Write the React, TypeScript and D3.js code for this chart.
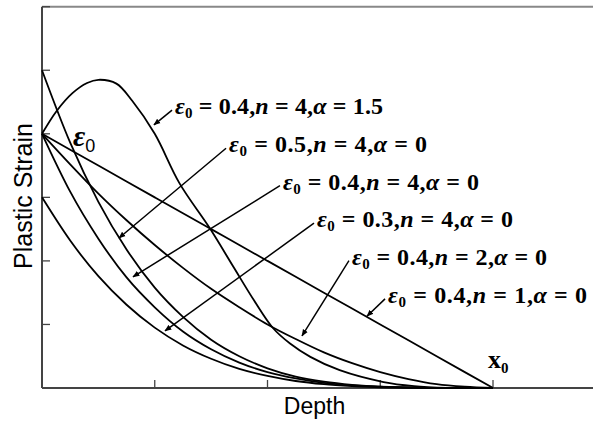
import React from "react";
import * as d3 from "d3";

// Depth values (units of the axis tick spacing) for the α = 0 curves
const depth = [0, 0.25, 0.5, 0.75, 1, 1.25, 1.5, 1.75, 2, 2.25, 2.5, 2.75, 3, 3.25, 3.5, 3.75, 4];
const strainE04n1 = [0.4, 0.375, 0.35, 0.325, 0.3, 0.275, 0.25, 0.225, 0.2, 0.175, 0.15, 0.125, 0.1, 0.075, 0.05, 0.025, 0];
const strainE04n2 = [0.4, 0.352, 0.306, 0.264, 0.225, 0.189, 0.156, 0.127, 0.1, 0.077, 0.056, 0.039, 0.025, 0.014, 0.006, 0.002, 0];
const strainE05n4 = [0.5, 0.386, 0.293, 0.218, 0.158, 0.112, 0.076, 0.05, 0.031, 0.018, 0.01, 0.005, 0.002, 0.001, 0, 0, 0];
const strainE04n4 = [0.4, 0.309, 0.235, 0.174, 0.127, 0.089, 0.061, 0.04, 0.025, 0.015, 0.008, 0.004, 0.002, 0.0005, 0, 0, 0];
const strainE03n4 = [0.3, 0.232, 0.176, 0.131, 0.095, 0.067, 0.046, 0.03, 0.019, 0.011, 0.006, 0.003, 0.001, 0.0004, 0, 0, 0];

// α = 1.5 curve
const depthAlpha = [0, 0.13, 0.27, 0.4, 0.5, 0.66, 0.8, 1.0, 1.22, 1.49, 1.7, 1.88, 2.05, 2.2, 2.38, 2.64, 3.03, 3.3, 3.6];
const strainAlpha = [0.4, 0.436, 0.464, 0.48, 0.485, 0.479, 0.452, 0.4, 0.322, 0.251, 0.19, 0.138, 0.094, 0.07, 0.049, 0.028, 0.0094, 0.003, 0];

const xTicks = [0, 1, 2, 3, 4];
const yTicks = [0, 0.1, 0.2, 0.3, 0.4, 0.5, 0.6];

// Annotation labels: [eps0, n, alpha], label anchor (depth, strain), arrow tip (depth, strain)
const labelEps = ["0.4", "0.5", "0.4", "0.3", "0.4", "0.4"];
const labelN = ["4", "4", "4", "4", "2", "1"];
const labelAlpha = ["1.5", "0", "0", "0", "0", "0"];
const labelDepth = [1.18, 1.659, 2.137, 2.439, 2.749, 3.069];
const labelStrain = [0.431, 0.371, 0.312, 0.253, 0.194, 0.134];
const tipDepth = [0.993, 0.683, 0.807, 1.091, 2.306, 2.882];
const tipStrain = [0.414, 0.236, 0.175, 0.09, 0.082, 0.113];
const labelWidth = [208, 198, 196, 196, 195, 199];

const eps0Label = { depth: 0.275, strain: 0.381 };
const x0Label = { depth: 3.956, strain: 0.031 };

const W = 593;
const H = 423;

export default function App() {
  const x = d3.scaleLinear().domain([0, 4]).range([42, 493]);
  const y = d3.scaleLinear().domain([0, 0.6]).range([388, 6.7]);
  const line = d3
    .line<[number, number]>()
    .x((d) => x(d[0]))
    .y((d) => y(d[1]))
    .curve(d3.curveMonotoneX);
  const smooth = d3
    .line<[number, number]>()
    .x((d) => x(d[0]))
    .y((d) => y(d[1]))
    .curve(d3.curveCatmullRom.alpha(0.5));

  const series = [strainE04n1, strainE04n2, strainE05n4, strainE04n4, strainE03n4].map((s) =>
    depth.map((d, i) => [d, s[i]] as [number, number])
  );
  const alphaSeries = depthAlpha.map((d, i) => [d, strainAlpha[i]] as [number, number]);

  const serif = "'Liberation Serif', 'Times New Roman', serif";
  const sans = "'Liberation Sans', Arial, sans-serif";
  const axisColor = "#444";

  return (
    <svg width={W} height={H} style={{ position: "absolute", left: 0, top: 0, background: "#fff" }}>
      <defs>
        <marker id="arr" viewBox="0 0 10 10" refX="9" refY="5" markerWidth="7" markerHeight="7" orient="auto" markerUnits="userSpaceOnUse">
          <path d="M0,1 L10,5 L0,9 Z" fill="#000" />
        </marker>
      </defs>
      {/* frame */}
      <line x1={x(0)} x2={W} y1={y(0.6)} y2={y(0.6)} stroke="#888" strokeWidth={2} />
      <line x1={x(0)} x2={W} y1={y(0)} y2={y(0)} stroke={axisColor} strokeWidth={2} />
      <line x1={x(0)} x2={x(0)} y1={y(0.6)} y2={y(0)} stroke={axisColor} strokeWidth={2} />
      {yTicks.map((t) => (
        <line key={"yt" + t} x1={x(0)} x2={x(0) + 8} y1={y(t)} y2={y(t)} stroke={axisColor} strokeWidth={1.3} />
      ))}
      {xTicks.map((t) => (
        <line key={"xt" + t} x1={x(t)} x2={x(t)} y1={y(0)} y2={y(0) - 8} stroke={axisColor} strokeWidth={1.3} />
      ))}
      {/* curves */}
      {series.map((s, i) => (
        <path key={"s" + i} d={line(s) || ""} fill="none" stroke="#000" strokeWidth={1.8} />
      ))}
      <path d={smooth(alphaSeries) || ""} fill="none" stroke="#000" strokeWidth={1.8} />
      {/* leaders */}
      {labelDepth.map((d, i) => (
        <line
          key={"ld" + i}
          x1={x(d) - 3}
          y1={y(labelStrain[i]) - 4}
          x2={x(tipDepth[i])}
          y2={y(tipStrain[i])}
          stroke="#000"
          strokeWidth={1.5}
          markerEnd="url(#arr)"
        />
      ))}
      {/* labels */}
      {labelDepth.map((d, i) => (
        <text
          key={"lb" + i}
          x={x(d)}
          y={y(labelStrain[i])}
          fontFamily={serif}
          fontWeight="bold"
          fontSize={24}
          textLength={labelWidth[i]}
          lengthAdjust="spacing"
        >
          <tspan fontStyle="italic">ε</tspan>
          <tspan fontSize={15} dy={4}>0</tspan>
          <tspan dy={-4}>{" = " + labelEps[i] + ","}</tspan>
          <tspan fontStyle="italic">n</tspan>
          <tspan>{" = " + labelN[i] + ","}</tspan>
          <tspan fontStyle="italic">α</tspan>
          <tspan>{" = " + labelAlpha[i]}</tspan>
        </text>
      ))}
      {/* ε0 at origin */}
      <text x={x(eps0Label.depth)} y={y(eps0Label.strain)} fontFamily={serif} fontWeight="bold" fontStyle="italic" fontSize={30}>
        ε
        <tspan fontFamily={sans} fontStyle="normal" fontWeight="normal" fontSize={18} dy={6}>0</tspan>
      </text>
      {/* x0 */}
      <text x={x(x0Label.depth)} y={y(x0Label.strain)} fontFamily={serif} fontWeight="bold" fontSize={26}>
        x
        <tspan fontSize={15} dy={5}>0</tspan>
      </text>
      {/* axis titles */}
      <text x={(x(0) + W) / 2 - 3} y={414} textAnchor="middle" fontFamily={sans} fontSize={23}>
        Depth
      </text>
      <text
        transform={`translate(31.5,${196}) rotate(-90)`}
        textAnchor="middle"
        fontFamily={sans}
        fontSize={25}
      >
        Plastic Strain
      </text>
    </svg>
  );
}
